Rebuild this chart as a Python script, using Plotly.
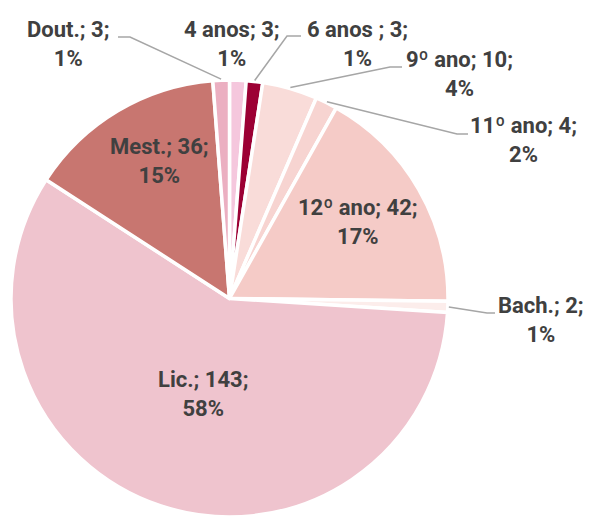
import math
import plotly.graph_objects as go

# escolaridade - contagens
labels = ["4 anos", "6 anos ", "9º ano", "11º ano", "12º ano", "Bach.", "Lic.", "Mest.", "Dout."]
values = [3, 3, 10, 4, 42, 2, 143, 36, 3]
colors = ["#F5C7DD", "#9C0034", "#F9DCD9", "#F7D4D1", "#F5CBC7", "#FCEDEB", "#EFC4CE", "#C87670", "#EBAFC1"]

W, H = 593, 517
CX, CY, R = 229.5, 298.5, 218.5   # pie centre / radius in px

# label centre (px) and elbow of leader line (px), None = no line
label_pos = {
    "4 anos": (232, 44, None),
    "6 anos ": (357, 44, [(287, 36), (301, 36)]),
    "9º ano": (459, 74, [(390, 67), (402, 67)]),
    "11º ano": (523, 140, [(457, 134), (468, 134)]),
    "12º ano": (358, 222, None),
    "Bach.": (541, 320, [(487, 313), (495, 313)]),
    "Lic.": (203, 394, None),
    "Mest.": (159, 161, None),
    "Dout.": (68, 44, [(130, 37), (118, 37)]),
}

def px(x, y):
    return x / W, 1 - y / H

total = sum(values)

fig = go.Figure(go.Pie(
    labels=labels, values=values, sort=False, direction="clockwise", rotation=0,
    marker=dict(colors=colors, line=dict(color="white", width=3.5)),
    textinfo="none", hoverinfo="label+value+percent",
    domain=dict(x=[0, 2 * CX / W], y=[0, 2 * R / H]),
))

cum = 0
for lab, v in zip(labels, values):
    mid = (cum + v / 2) / total * 2 * math.pi
    cum += v
    pct = int(v * 100 / total + 0.5)
    lx, ly, elbow = label_pos[lab]
    x, y = px(lx, ly)
    fig.add_annotation(x=x, y=y, xref="paper", yref="paper", showarrow=False,
                       text=f"{lab}; {v};<br>{pct}%", xanchor="center", yanchor="middle",
                       font=dict(family="Roboto", size=22, color="#404040", weight="bold"))
    if elbow:
        sx = CX + (R + 1) * math.sin(mid)
        sy = CY - (R + 1) * math.cos(mid)
        pts = [px(sx, sy)] + [px(a, b) for a, b in elbow]
        path = "M " + " L ".join(f"{a},{b}" for a, b in pts)
        fig.add_shape(type="path", path=path, xref="paper", yref="paper",
                      line=dict(color="#A6A6A6", width=1.5))

fig.update_layout(width=W, height=H, margin=dict(l=0, r=0, t=0, b=0),
                  showlegend=False, paper_bgcolor="white", plot_bgcolor="white")
fig.write_html("out.html", config={"displayModeBar": False},
               post_script="document.body.style.margin='0';")
